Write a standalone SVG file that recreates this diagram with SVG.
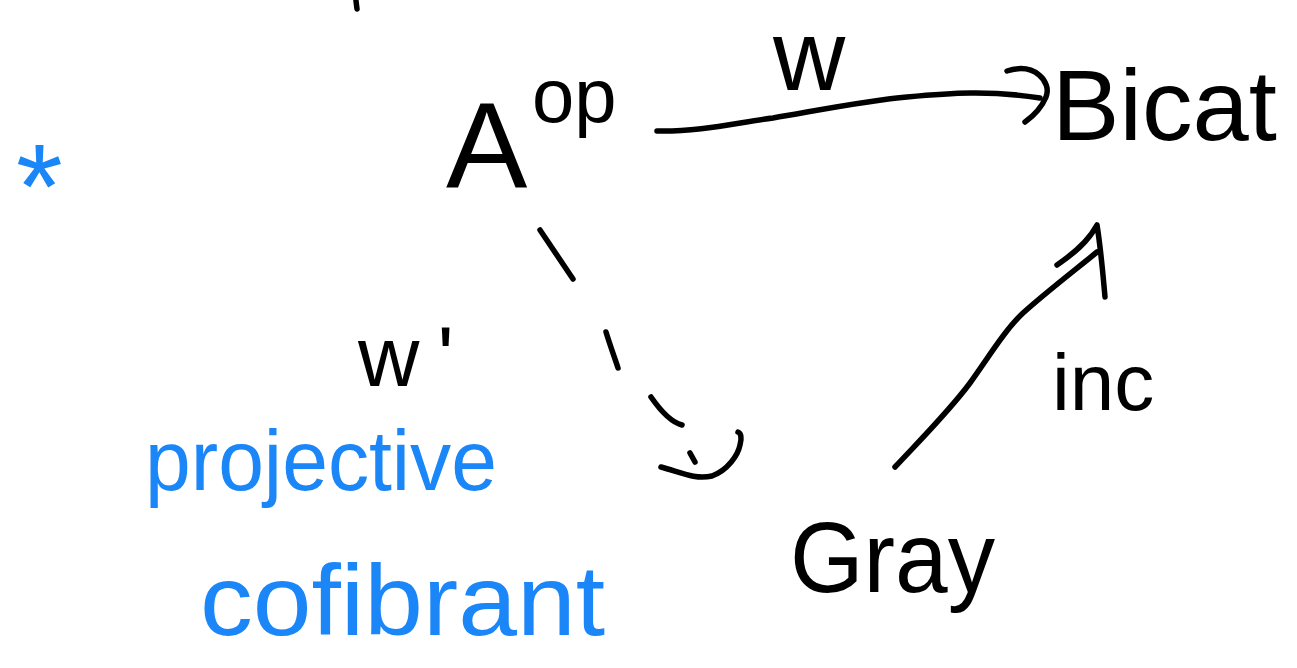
<svg xmlns="http://www.w3.org/2000/svg" width="1297" height="668" viewBox="0 0 1297 668">
<style>
.ink{fill:#000;font-family:"Liberation Sans",Arial,sans-serif}
.blue{fill:#1a86f7;font-family:"Liberation Sans",Arial,sans-serif}
.stroke{fill:none;stroke:#000;stroke-width:5.5;stroke-linecap:round;stroke-linejoin:round}
</style>
<rect width="1297" height="668" fill="#fff"/>
<path class="stroke" d="M356,1 L357,9"/>
<text class="blue" x="16" y="228" font-size="120">*</text>
<g id="node-Aop">
<text class="ink" x="446" y="188" font-size="122">A</text>
<text class="ink" x="532" y="122" font-size="76">op</text>
</g>
<g id="node-Bicat">
<text class="ink" x="1052" y="140" font-size="100" textLength="225" lengthAdjust="spacingAndGlyphs">Bicat</text>
</g>
<g id="node-Gray">
<text class="ink" x="790" y="592" font-size="100" textLength="205" lengthAdjust="spacingAndGlyphs">Gray</text>
</g>
<g id="connectors">
<g id="edge-w">
<path class="stroke" d="M657,131 C700,132 740,122 773,118 C820,110 870,100 907,97 C950,93 990,90 1040,98"/>
<path class="stroke" d="M1007,71 C1035,62 1052,82 1046,97 C1041,109 1032,117 1025,122"/>
<text class="ink" x="773" y="90" font-size="100">w</text>
</g>
<g id="edge-wprime">
<path class="stroke" d="M540,230 L573,279"/>
<path class="stroke" d="M606,332 C610,345 614,356 618,368"/>
<path class="stroke" d="M651,397 C660,410 670,422 682,425"/>
<path class="stroke" d="M661,467 C680,472 695,480 712,476 C728,470 738,455 740,445 C742,438 741,433 738,432"/>
<path class="stroke" d="M690,453 L695,462"/>
<text class="ink" x="358" y="386" font-size="85">w<tspan dx="18">'</tspan></text>
</g>
<g id="edge-inc">
<path class="stroke" d="M895,467 C925,435 950,410 970,383 C990,355 1005,330 1023,313 C1045,293 1075,270 1097,252"/>
<path class="stroke" d="M1057,265 C1073,254 1088,242 1097,225 C1101,250 1103,275 1105,297"/>
<text class="ink" x="1052" y="410" font-size="80">inc</text>
</g>
</g>
<g id="note">
<text class="blue" x="145" y="490" font-size="85" textLength="352" lengthAdjust="spacingAndGlyphs">projective</text>
<text class="blue" x="200" y="635" font-size="100" textLength="405" lengthAdjust="spacingAndGlyphs">cofibrant</text>
</g>
</svg>
